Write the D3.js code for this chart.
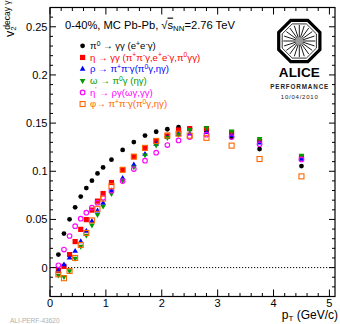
<!DOCTYPE html>
<html>
<head>
<meta charset="utf-8">
<script src="https://cdn.jsdelivr.net/npm/d3@7"></script>
<style>
  html, body { margin: 0; padding: 0; background: #fff; }
  svg { display: block; font-family: "Liberation Sans", Arial, sans-serif; }
</style>
</head>
<body>
<svg id="chart" width="340" height="324"></svg>
<script>
// Transverse-momentum bin centres (GeV/c)
const pT = [0.15, 0.25, 0.35, 0.45, 0.55, 0.65, 0.75, 0.85, 0.95, 1.1, 1.3, 1.5, 1.7, 1.9, 2.1, 2.3, 2.5, 2.8, 3.25, 3.75, 4.5];

// Decay-photon v2 for each parent meson
const v2Pi0 = [0.0135, 0.0353, 0.0501, 0.0626, 0.0737, 0.0826, 0.0902, 0.0978, 0.104, 0.112, 0.1222, 0.1303, 0.137, 0.141, 0.1436, 0.1457, 0.1445, 0.1415, 0.1352, 0.123, 0.1054];
const v2Eta = [-0.003, 0.0013, 0.0135, 0.027, 0.0397, 0.0498, 0.0597, 0.069, 0.0769, 0.0883, 0.1015, 0.1151, 0.124, 0.1313, 0.1367, 0.1428, 0.1442, 0.1442, 0.14, 0.1313, 0.1141];
const v2Rho = [-0.003, 0.003, 0.01, 0.017, 0.027, 0.038, 0.048, 0.059, 0.067, 0.0798, 0.0928, 0.1068, 0.1177, 0.1283, 0.1355, 0.1383, 0.139, 0.1405, 0.1372, 0.1295, 0.1125];
const v2Omega = [-0.008, -0.0095, -0.0035, 0.0095, 0.022, 0.0335, 0.044, 0.055, 0.0636, 0.0768, 0.0905, 0.1044, 0.1168, 0.127, 0.1349, 0.1383, 0.1432, 0.1452, 0.1417, 0.1338, 0.1165];
const v2EtaPrime = [0.0024, 0.0187, 0.0328, 0.043, 0.0508, 0.057, 0.0622, 0.0674, 0.0726, 0.0799, 0.0898, 0.1023, 0.111, 0.1193, 0.1272, 0.132, 0.1355, 0.138, 0.1355, 0.128, 0.1123];
const v2Phi = [-0.007, -0.011, -0.0035, 0.010, 0.0235, 0.036, 0.049, 0.061, 0.0716, 0.0845, 0.1015, 0.1152, 0.1243, 0.1315, 0.1372, 0.139, 0.137, 0.1347, 0.1266, 0.1127, 0.0947];

// Legend labels (^{..} superscript markup)
const seriesLabels = [
  "π^{0} → γγ (e^{+}e^{-}γ)",
  "η → γγ (π^{+}π^{-}γ,e^{+}e^{-}γ,π^{0}γγ)",
  "ρ → π^{+}π^{-}γ(π^{0}γ,ηγ)",
  "ω → π^{0}γ (ηγ)",
  "η^{'} → ργ(ωγ,γγ)",
  "φ→ π^{+}π^{-}γ(π^{0}γ,ηγ)"
];
const seriesColors = ["#000000", "#ff0000", "#0000ff", "#009a00", "#ff00ff", "#ff6600"];
const seriesMarkers = ["dot", "square", "triangleUp", "triangleDown", "openCircle", "openSquare"];
const seriesValues = [v2Pi0, v2Eta, v2Rho, v2Omega, v2EtaPrime, v2Phi];

// Axis tick labels
const xTickValues = [0, 1, 2, 3, 4, 5];
const yTickValues = [0, 0.05, 0.1, 0.15, 0.2, 0.25];

const svg = d3.select("#chart");
const L = 50, R = 335, T = 7.5, B = 296.5;

const x = d3.scaleLinear().domain([0, 5.1]).range([L, R]);
const y = d3.scaleLinear().domain([-0.03, 0.27]).range([B, T]);

// ---- axes with inward ticks (major + minor) ----
const xMinor = d3.range(0, 5.1001, 0.2).filter(v => Math.abs(v - Math.round(v)) > 1e-6);
const yMinor = d3.range(-0.03, 0.27001, 0.01).filter(v => Math.abs(v / 0.05 - Math.round(v / 0.05)) > 1e-6);

const axes = svg.append("g").attr("stroke", "#000").attr("stroke-width", 1);
function tickLines(vals, len, orient) {
  vals.forEach(v => {
    if (orient === "bottom") axes.append("line").attr("x1", x(v)).attr("x2", x(v)).attr("y1", B).attr("y2", B - len);
    if (orient === "top") axes.append("line").attr("x1", x(v)).attr("x2", x(v)).attr("y1", T).attr("y2", T + len);
    if (orient === "left") axes.append("line").attr("x1", L).attr("x2", L + len).attr("y1", y(v)).attr("y2", y(v));
    if (orient === "right") axes.append("line").attr("x1", R).attr("x2", R - len).attr("y1", y(v)).attr("y2", y(v));
  });
}
tickLines(xTickValues, 7, "bottom");
tickLines(xMinor, 3.5, "bottom");
tickLines(xTickValues, 7, "top");
tickLines(xMinor, 3.5, "top");
tickLines(yTickValues, 6, "left");
tickLines(yMinor, 3, "left");
tickLines(yTickValues, 6, "right");
tickLines(yMinor, 3, "right");

svg.append("rect").attr("x", L).attr("y", T).attr("width", R - L).attr("height", B - T)
  .attr("fill", "none").attr("stroke", "#000").attr("stroke-width", 1.2);

// tick labels
svg.append("g").selectAll("text").data(xTickValues).join("text")
  .attr("x", d => x(d)).attr("y", 306.8).attr("text-anchor", "middle")
  .attr("font-size", 11).text(d => d3.format("d")(d));
svg.append("g").selectAll("text").data(yTickValues).join("text")
  .attr("x", 47.5).attr("y", d => y(d)).attr("dy", "0.36em").attr("text-anchor", "end")
  .attr("font-size", 11).text(d => d === 0 ? "0" : String(+d.toFixed(2)));

// axis titles
const xt = svg.append("text").attr("x", 338).attr("y", 318.5).attr("text-anchor", "end").attr("font-size", 12);
xt.append("tspan").text("p");
xt.append("tspan").attr("font-size", 8).attr("dy", 2.5).text("T");
xt.append("tspan").attr("dy", -2.5).text(" (GeV/c)");

const yt = svg.append("text").attr("transform", "translate(13.8,37) rotate(-90)").attr("font-size", 12.5);
yt.append("tspan").text("v");
yt.append("tspan").attr("font-size", 8).attr("dy", 2.2).text("2");
yt.append("tspan").attr("font-size", 8.5).attr("dx", -3.5).attr("dy", -6.2).text("decay γ");

// zero reference line
svg.append("line").attr("x1", x(0)).attr("x2", x(5.1)).attr("y1", y(0)).attr("y2", y(0))
  .attr("stroke", "#000").attr("stroke-width", 1).attr("stroke-dasharray", "1.2,1.8");

// ---- markers ----
function drawMarker(g, kind, cx, cy, color) {
  if (kind === "dot") {
    g.append("circle").attr("cx", cx).attr("cy", cy).attr("r", 2.4).attr("fill", color);
  } else if (kind === "square") {
    g.append("rect").attr("x", cx - 2.6).attr("y", cy - 2.6).attr("width", 5.2).attr("height", 5.2).attr("fill", color);
  } else if (kind === "openSquare") {
    g.append("rect").attr("x", cx - 2.5).attr("y", cy - 2.5).attr("width", 5).attr("height", 5)
      .attr("fill", "none").attr("stroke", color).attr("stroke-width", 1.1);
  } else if (kind === "openCircle") {
    g.append("circle").attr("cx", cx).attr("cy", cy).attr("r", 2.3)
      .attr("fill", "none").attr("stroke", color).attr("stroke-width", 1.1);
  } else {
    const sym = d3.symbol(d3.symbolTriangle, 14)();
    g.append("path").attr("d", sym).attr("fill", color)
      .attr("transform", `translate(${cx},${cy})` + (kind === "triangleDown" ? " rotate(180)" : ""));
  }
}

const marks = svg.append("g");
seriesValues.forEach((vals, i) => {
  const g = marks.append("g");
  vals.forEach((v, j) => drawMarker(g, seriesMarkers[i], x(pT[j]), y(v), seriesColors[i]));
});

// ---- legend ----
function richText(sel, str, size) {
  const re = /\^\{([^}]*)\}/g;
  let last = 0, m, shifted = false;
  while ((m = re.exec(str)) !== null) {
    if (m.index > last) {
      sel.append("tspan").attr("dy", shifted ? 3.5 : 0).text(str.slice(last, m.index));
      shifted = false;
    }
    sel.append("tspan").attr("font-size", size * 0.7).attr("dy", shifted ? 0 : -3.5).text(m[1]);
    shifted = true;
    last = re.lastIndex;
  }
  if (last < str.length) sel.append("tspan").attr("dy", shifted ? 3.5 : 0).text(str.slice(last));
}

const legend = svg.append("g");
seriesLabels.forEach((lab, i) => {
  const yy = 45.8 + i * 11.65;
  drawMarker(legend, seriesMarkers[i], 82.6, yy, seriesColors[i]);
  const t = legend.append("text").attr("x", 90).attr("y", yy + 3.3).attr("font-size", 9.6).attr("fill", seriesColors[i]);
  richText(t, lab, 9.6);
});

// ---- header ----
const hdr = svg.append("text").attr("x", 65).attr("y", 28.6).attr("font-size", 11.2);
hdr.append("tspan").text("0-40%, MC Pb-Pb, √");
hdr.append("tspan").attr("text-decoration", "overline").text("s");
hdr.append("tspan").attr("font-size", 7.8).attr("dy", 2.5).text("NN");
hdr.append("tspan").attr("dy", -2.5).text("=2.76 TeV");

// ---- experiment logo ----
const logo = svg.append("g").attr("transform", "translate(299.3,41)");
const octa = (r) => d3.range(8).map(k => {
  const a = Math.PI / 8 + k * Math.PI / 4;
  return [r * Math.cos(a), r * Math.sin(a)];
});
logo.append("path").attr("d", d3.line()(octa(22.3)) + "Z")
  .attr("fill", "#fff").attr("stroke", "#000").attr("stroke-width", 3.2);
logo.append("path").attr("d", d3.line()(octa(18.5)) + "Z")
  .attr("fill", "none").attr("stroke", "#000").attr("stroke-width", 0.8);
d3.range(20).forEach(k => {
  const a = k * 2 * Math.PI / 20;
  logo.append("line").attr("x1", 3 * Math.cos(a)).attr("y1", 3 * Math.sin(a))
    .attr("x2", 16 * Math.cos(a)).attr("y2", 16 * Math.sin(a))
    .attr("stroke", "#000").attr("stroke-width", 0.9);
});
logo.append("circle").attr("r", 4).attr("fill", "#999");

svg.append("text").attr("x", 299.3).attr("y", 77).attr("text-anchor", "middle")
  .attr("font-size", 13.5).attr("font-weight", "bold").attr("textLength", 41).text("ALICE");
svg.append("text").attr("x", 299.3).attr("y", 89).attr("text-anchor", "middle")
  .attr("font-size", 6.3).attr("font-weight", "bold").attr("textLength", 58).attr("fill", "#222").text("PERFORMANCE");
svg.append("text").attr("x", 299.3).attr("y", 98.5).attr("text-anchor", "middle")
  .attr("font-size", 6).attr("textLength", 37).attr("fill", "#222").text("10/04/2010");

// figure id
svg.append("text").attr("x", 10).attr("y", 323.3).attr("font-size", 6.5).attr("fill", "#b0b0b0").text("ALI-PERF-43620");
</script>
</body>
</html>
